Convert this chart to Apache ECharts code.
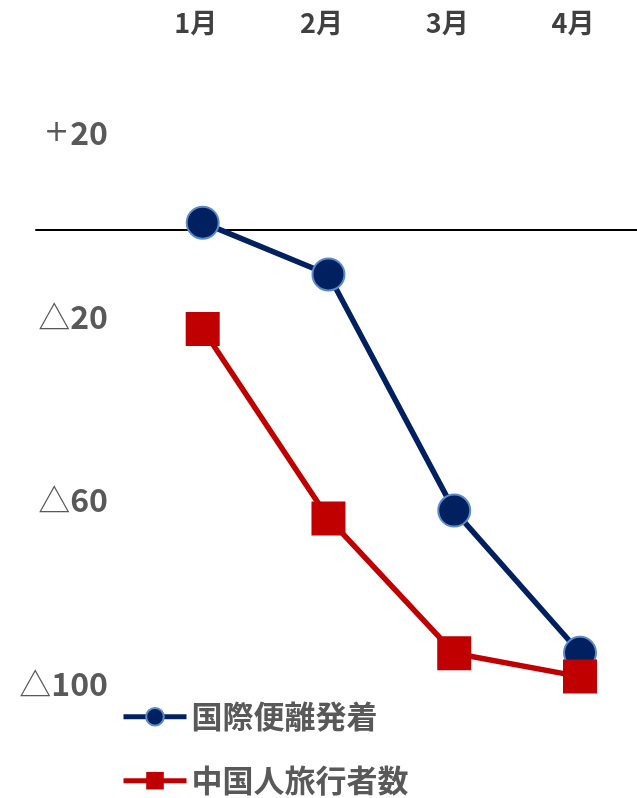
<!DOCTYPE html>
<html>
<head>
<meta charset="utf-8">
<script src="https://cdn.jsdelivr.net/npm/echarts@6/dist/echarts.min.js"></script>
<style>
html,body{margin:0;padding:0;background:#fff;}
#chart{width:637px;height:798px;}
</style>
</head>
<body>
<div id="chart"></div>
<script>
var months = ['1月', '2月', '3月', '4月'];
var flights = [1.6, -9.7, -61.2, -92.2];
var chineseVisitors = [-21.6, -62.9, -92.3, -97.4];
var seriesNames = ['国際便離発着', '中国人旅行者数'];
var yMin = -100, yMax = 40, yInterval = 20;

var FONT = '"Noto Sans CJK JP", "Noto Sans", sans-serif';
var chart = echarts.init(document.getElementById('chart'), null, {renderer: 'canvas'});

function yLabel(v) {
  if ((v - yMin) % 40 !== 0 || v === 0) return '';
  if (v > 0) return '{p|+}{d|' + v + '}';
  return '{s|△}{d|' + (-v) + '}';
}

var option = {
  backgroundColor: '#ffffff',
  animation: false,
  grid: [
    {left: 202.7, width: 377.3, top: 46.6, bottom: 109.5},
    {left: 36, right: 0, top: 46.6, bottom: 109.5}
  ],
  legend: {
    orient: 'vertical',
    left: 121,
    top: 701.2,
    padding: 0,
    itemWidth: 63,
    itemHeight: 22,
    itemGap: 33,
    lineStyle: {width: 5},
    textStyle: {fontFamily: FONT, fontSize: 31, fontWeight: 'bold', color: '#595959', lineHeight: 31},
    data: seriesNames
  },
  xAxis: [
    {
      type: 'category', gridIndex: 0, position: 'top', data: months, boundaryGap: false,
      axisLine: {show: false}, axisTick: {show: false},
      axisLabel: {fontFamily: FONT, fontSize: 27, fontWeight: 'bold', color: '#404040', margin: 10, padding: [0, 14, 0, 0]}
    },
    {
      type: 'value', gridIndex: 1, min: 0, max: 1,
      axisLine: {show: true, onZero: true, lineStyle: {color: '#000000', width: 2}},
      axisTick: {show: false}, axisLabel: {show: false}, splitLine: {show: false}
    }
  ],
  yAxis: [
    {
      type: 'value', gridIndex: 0, min: yMin, max: yMax, interval: yInterval,
      axisLine: {show: false}, axisTick: {show: false}, splitLine: {show: false},
      axisLabel: {
        margin: 94.7, padding: [0, 0, 10, 0],
        formatter: yLabel,
        rich: {
          p: {fontFamily: '"DejaVu Sans", sans-serif', fontSize: 30, fontWeight: 'normal', color: '#595959', padding: [0, 1, 0, 0]},
          s: {fontFamily: FONT, fontSize: 32, fontWeight: 'normal', color: '#595959'},
          d: {fontFamily: FONT, fontSize: 32, fontWeight: 'bold', color: '#595959'}
        }
      }
    },
    {
      type: 'value', gridIndex: 1, min: yMin, max: yMax, interval: yInterval,
      show: false, splitLine: {show: false}
    }
  ],
  series: [
    {
      name: seriesNames[0], type: 'line', xAxisIndex: 0, yAxisIndex: 0, clip: false,
      data: flights, symbol: 'circle', symbolSize: 32, z: 3,
      lineStyle: {color: '#002060', width: 5.5},
      itemStyle: {color: '#002060', borderColor: '#5B8BC9', borderWidth: 2}
    },
    {
      name: seriesNames[1], type: 'line', xAxisIndex: 0, yAxisIndex: 0, clip: false,
      data: chineseVisitors, symbol: 'rect', symbolSize: 34, z: 4,
      lineStyle: {color: '#C00000', width: 5.5},
      itemStyle: {color: '#C00000'}
    }
  ]
};
chart.setOption(option);
</script>
</body>
</html>
